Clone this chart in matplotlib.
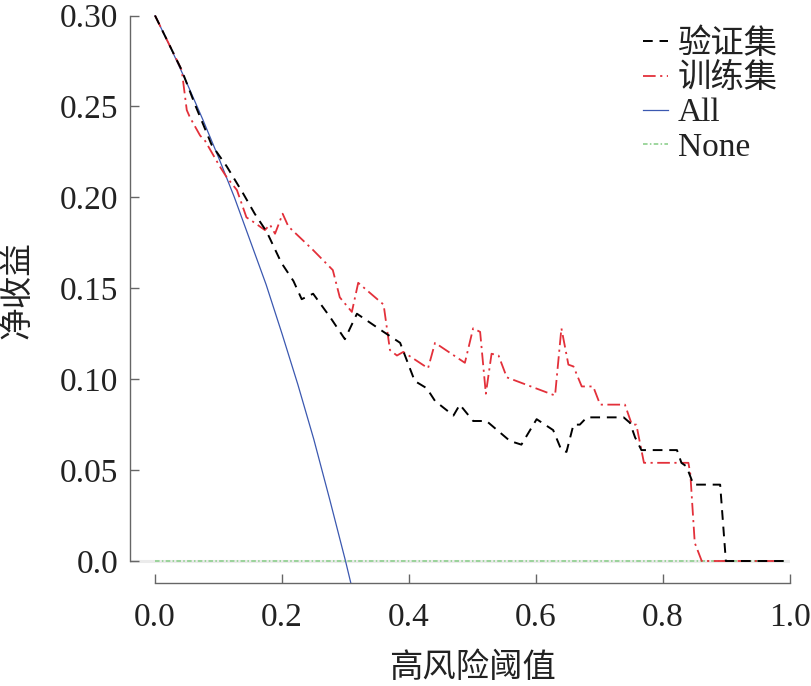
import matplotlib
matplotlib.use('Agg')
import matplotlib.pyplot as plt

# ---- data ----
thr_val = [0.000, 0.042, 0.063, 0.089, 0.113, 0.139, 0.157, 0.176, 0.199, 0.218,
           0.231, 0.249, 0.276, 0.299, 0.318, 0.360, 0.386, 0.409, 0.428, 0.441,
           0.470, 0.480, 0.501, 0.522, 0.559, 0.577, 0.601, 0.627, 0.640, 0.648,
           0.659, 0.669, 0.680, 0.738, 0.748, 0.756, 0.766, 0.822, 0.829, 0.837,
           0.848, 0.890, 0.899, 0.990]
nb_val = [0.300, 0.270, 0.251, 0.229, 0.217, 0.202, 0.191, 0.181, 0.164, 0.154,
          0.144, 0.147, 0.134, 0.122, 0.136, 0.126, 0.120, 0.099, 0.095, 0.088,
          0.080, 0.086, 0.077, 0.077, 0.066, 0.064, 0.078, 0.072, 0.061, 0.060,
          0.075, 0.075, 0.079, 0.079, 0.076, 0.068, 0.061, 0.061, 0.054, 0.052,
          0.042, 0.042, 0.000, 0.000]

thr_train = [0.000, 0.042, 0.050, 0.055, 0.071, 0.079, 0.102, 0.113, 0.129, 0.144,
             0.157, 0.173, 0.181, 0.189, 0.201, 0.210, 0.249, 0.280, 0.291, 0.310,
             0.320, 0.360, 0.370, 0.381, 0.391, 0.430, 0.441, 0.488, 0.501, 0.512,
             0.521, 0.530, 0.541, 0.554, 0.630, 0.640, 0.651, 0.659, 0.672, 0.690,
             0.701, 0.740, 0.751, 0.758, 0.770, 0.840, 0.843, 0.850, 0.861, 0.990]
nb_train = [0.300, 0.270, 0.248, 0.244, 0.234, 0.231, 0.217, 0.211, 0.204, 0.189,
            0.186, 0.182, 0.185, 0.180, 0.191, 0.184, 0.171, 0.160, 0.145, 0.137,
            0.153, 0.141, 0.116, 0.113, 0.115, 0.106, 0.120, 0.109, 0.128, 0.126,
            0.092, 0.114, 0.113, 0.101, 0.091, 0.128, 0.108, 0.107, 0.096, 0.096,
            0.086, 0.086, 0.075, 0.075, 0.054, 0.054, 0.048, 0.010, 0.000, 0.000]

thr_all = [0.000, 0.025, 0.050, 0.075, 0.100, 0.125, 0.150, 0.175, 0.200, 0.225,
           0.250, 0.275, 0.300, 0.320]
nb_all = [0.300, 0.282, 0.263, 0.243, 0.222, 0.200, 0.176, 0.152, 0.125, 0.097,
          0.067, 0.034, 0.000, -0.029]

thr_none = [0.000, 0.990]
nb_none = [0.000, 0.000]

labels = ['验证集', '训练集', 'All', 'None']
xticks = [0.0, 0.2, 0.4, 0.6, 0.8, 1.0]
yticks = [0.0, 0.05, 0.10, 0.15, 0.20, 0.25, 0.30]
ytick_labels = ['0.0', '0.05', '0.10', '0.15', '0.20', '0.25', '0.30']
xtick_labels = ['0.0', '0.2', '0.4', '0.6', '0.8', '1.0']

serif = ['Liberation Serif', 'Noto Sans CJK SC', 'DejaVu Sans']
cjk = ['Noto Sans CJK SC', 'DejaVu Sans']

fig = plt.figure(figsize=(8.12, 6.86), dpi=100)
ax = fig.add_axes([130 / 812, 103 / 686, 660 / 812, 568 / 686])

ax.axhline(0, color='#ebebeb', lw=2.2, zorder=1)
ax.plot(thr_val, nb_val, color='black', lw=1.4, ls=(0, (5, 3.5)), label=labels[0], zorder=4)
ax.plot(thr_train, nb_train, color='#e3303a', lw=1.3, ls=(0, (7, 2.5, 1.2, 2.5)), label=labels[1], zorder=3)
ax.plot(thr_all, nb_all, color='#3b58b0', lw=0.9, ls='-', label=labels[2], zorder=2)
ax.plot(thr_none, nb_none, color='#84cc84', lw=1.1, ls=(0, (3, 1.5, 1, 1.5)), label=labels[3], zorder=2)

ax.set_xlim(-0.0394, 1.0)
ax.set_ylim(-0.0121, 0.3003)

for s in ['top', 'right']:
    ax.spines[s].set_visible(False)
for s in ['left', 'bottom']:
    ax.spines[s].set_color('#666666')
    ax.spines[s].set_linewidth(1.0)
ax.spines['left'].set_bounds(0, 0.30)
ax.spines['bottom'].set_bounds(0, 1.0)

ax.set_xticks(xticks)
ax.set_xticklabels(xtick_labels)
ax.set_yticks(yticks)
ax.set_yticklabels(ytick_labels)
ax.tick_params(axis='both', direction='in', length=6.5, width=1.0, color='#666666',
               labelcolor='#222222')
ax.tick_params(axis='y', pad=8.5)
ax.tick_params(axis='x', pad=14)
for lab in ax.get_xticklabels() + ax.get_yticklabels():
    lab.set_family(serif)
    lab.set_fontsize(24)

fig.text(472 / 812, 1 - 668 / 686, '高风险阈值', family=cjk, fontsize=24,
         ha='center', va='center', color='#222222')
fig.text(17 / 812, 1 - 290 / 686, '净收益', family=cjk, fontsize=23.5,
         ha='center', va='center', rotation=90, color='#222222')

leg = ax.legend(loc='upper left', bbox_to_anchor=(643 / 812, 1 - 28 / 686),
                bbox_transform=fig.transFigure, frameon=False,
                prop={'family': serif, 'size': 24}, handlelength=0.75,
                handletextpad=0.3, labelspacing=0.11, borderpad=0, borderaxespad=0)
for t in leg.get_texts():
    t.set_color('#222222')

fig.savefig('out.png', dpi=100)
